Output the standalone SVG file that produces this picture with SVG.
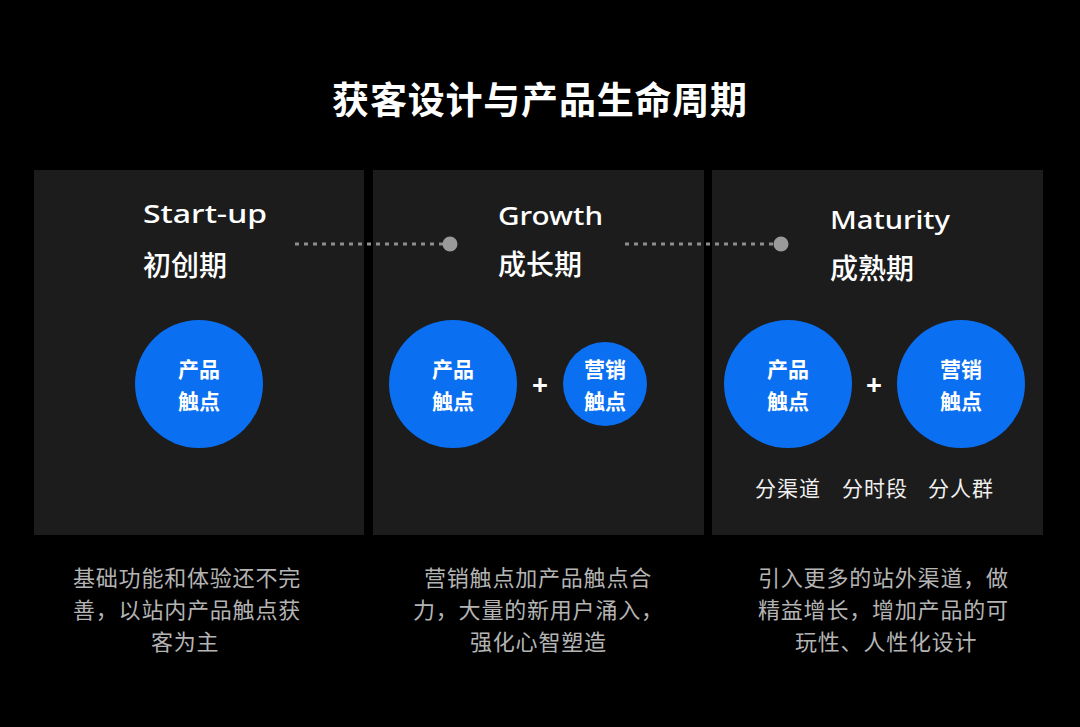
<svg xmlns="http://www.w3.org/2000/svg" width="1080" height="727" viewBox="0 0 1080 727">
  <style>
    .panel { fill: #1c1c1c; }
    .title { font-family: "Noto Sans CJK SC", sans-serif; font-size: 37px; font-weight: 700; fill: #ffffff; letter-spacing: 0.8px; }
    .en { font-family: "Noto Sans", "Noto Sans CJK SC", sans-serif; font-size: 26px; font-weight: 500; fill: #ffffff; }
    .zh { font-family: "Noto Sans CJK SC", sans-serif; font-size: 28px; font-weight: 500; fill: #ffffff; }
    .bubble { fill: #0b6ff2; }
    .btxt { font-family: "Noto Sans CJK SC", sans-serif; font-size: 21px; font-weight: 700; fill: #ffffff; text-anchor: middle; }
    .plus { font-family: "Noto Sans", sans-serif; font-size: 28px; font-weight: 700; fill: #ffffff; text-anchor: middle; }
    .sub { font-family: "Noto Sans CJK SC", sans-serif; font-size: 21px; font-weight: 400; fill: #f0f0f0; letter-spacing: 1px; }
    .desc { font-family: "Noto Sans CJK SC", sans-serif; font-size: 22px; font-weight: 400; fill: #b4b4b4; letter-spacing: 0.8px; }
    .dotline { stroke: #8e8e8e; stroke-width: 3; stroke-dasharray: 4 5; fill: none; }
    .dot { fill: #9a9a9a; }
  </style>
  <rect x="0" y="0" width="1080" height="727" fill="#000000"/>

  <text class="title" x="540" y="114" text-anchor="middle">获客设计与产品生命周期</text>

  <g id="startup">
    <rect class="panel" x="34" y="170" width="330" height="365"/>
    <text class="en" x="143" y="223" textLength="124" lengthAdjust="spacingAndGlyphs">Start-up</text>
    <text class="zh" x="143" y="276">初创期</text>
    <g id="startup-product">
      <circle class="bubble" cx="199" cy="384" r="64"/>
      <text class="btxt" x="199" y="377">产品</text>
      <text class="btxt" x="199" y="409">触点</text>
    </g>
  </g>

  <g id="growth">
    <rect class="panel" x="373" y="170" width="331" height="365"/>
    <text class="en" x="498" y="225" textLength="105" lengthAdjust="spacingAndGlyphs">Growth</text>
    <text class="zh" x="498" y="275">成长期</text>
    <g id="growth-product">
      <circle class="bubble" cx="453" cy="384" r="64"/>
      <text class="btxt" x="453" y="377">产品</text>
      <text class="btxt" x="453" y="409">触点</text>
    </g>
    <text class="plus" x="540" y="395">+</text>
    <g id="growth-marketing">
      <circle class="bubble" cx="605" cy="384" r="42"/>
      <text class="btxt" x="605" y="377">营销</text>
      <text class="btxt" x="605" y="409">触点</text>
    </g>
  </g>

  <g id="maturity">
    <rect class="panel" x="712" y="170" width="331" height="365"/>
    <text class="en" x="830" y="229" textLength="120" lengthAdjust="spacingAndGlyphs">Maturity</text>
    <text class="zh" x="830" y="279">成熟期</text>
    <g id="maturity-product">
      <circle class="bubble" cx="788" cy="384" r="64"/>
      <text class="btxt" x="788" y="377">产品</text>
      <text class="btxt" x="788" y="409">触点</text>
    </g>
    <text class="plus" x="874" y="395">+</text>
    <g id="maturity-marketing">
      <circle class="bubble" cx="961" cy="384" r="64"/>
      <text class="btxt" x="961" y="377">营销</text>
      <text class="btxt" x="961" y="409">触点</text>
    </g>
    <text class="sub" x="755" y="496">分渠道</text>
    <text class="sub" x="842" y="496">分时段</text>
    <text class="sub" x="928" y="496">分人群</text>
  </g>

  <g id="connectors">
    <line class="dotline" x1="295" y1="244" x2="443" y2="244"/>
    <circle class="dot" cx="450" cy="244" r="7.5"/>
    <line class="dotline" x1="625" y1="244" x2="774" y2="244"/>
    <circle class="dot" cx="781" cy="244" r="7.5"/>
  </g>

  <g id="desc-startup">
    <text class="desc" x="73" y="586">基础功能和体验还不完</text>
    <text class="desc" x="73" y="618">善，以站内产品触点获</text>
    <text class="desc" x="151" y="650">客为主</text>
  </g>
  <g id="desc-growth">
    <text class="desc" x="424" y="586">营销触点加产品触点合</text>
    <text class="desc" x="413" y="618">力，大量的新用户涌入，</text>
    <text class="desc" x="470" y="650">强化心智塑造</text>
  </g>
  <g id="desc-maturity">
    <text class="desc" x="758" y="586">引入更多的站外渠道，做</text>
    <text class="desc" x="758" y="618">精益增长，增加产品的可</text>
    <text class="desc" x="795" y="650">玩性、人性化设计</text>
  </g>
</svg>
